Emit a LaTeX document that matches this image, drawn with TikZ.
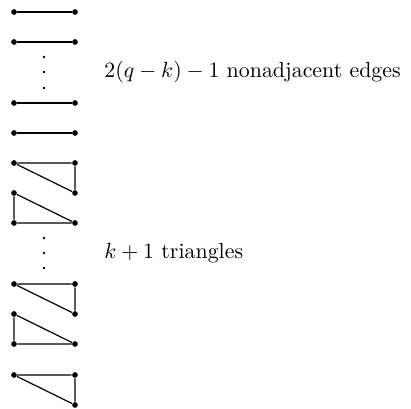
\documentclass[tikz,border=0pt]{standalone}
\begin{document}
\begin{tikzpicture}[x=0.457pt,y=-0.457pt,
  vtx/.style={circle,fill=black,inner sep=0pt,minimum size=2.6pt},
  smalldot/.style={circle,fill=black,inner sep=0pt,minimum size=1.3pt},
  edge/.style={line width=0.55pt},
  lbl/.style={anchor=west,inner sep=0pt}]
\useasboundingbox (0,0) rectangle (411,409);
% edges
\foreach \i/\y in {1/12,2/42,3/103,4/133}{
  \node[vtx] (a\i) at (14,\y) {};
  \node[vtx] (b\i) at (75,\y) {};
  \draw[edge] (a\i) -- (b\i);
}
\foreach \i/\y in {1/57,2/72,3/88}{\node[smalldot] (d\i) at (44,\y) {};}
\node[lbl] (t1) at (104,72) {$2(q-k)-1$ nonadjacent edges};
% triangles type A (top edge, right vertical)
\foreach \i/\y in {1/163,3/284,5/375}{
  \node[vtx] (p\i) at (14,\y) {};
  \node[vtx] (q\i) at (75,\y) {};
  \node[vtx] (r\i) at (75,\y+30) {};
  \draw[edge] (p\i) -- (q\i) -- (r\i) -- (p\i);
}
% triangles type B (left vertical, bottom edge)
\foreach \i/\y in {2/193,4/314}{
  \node[vtx] (p\i) at (14,\y) {};
  \node[vtx] (q\i) at (14,\y+30) {};
  \node[vtx] (r\i) at (75,\y+30) {};
  \draw[edge] (p\i) -- (q\i) -- (r\i) -- (p\i);
}
\foreach \i/\y in {4/238,5/253,6/268}{\node[smalldot] (d\i) at (44,\y) {};}
\node[lbl] (t2) at (104,253) {$k+1$ triangles};
\end{tikzpicture}
\end{document}
